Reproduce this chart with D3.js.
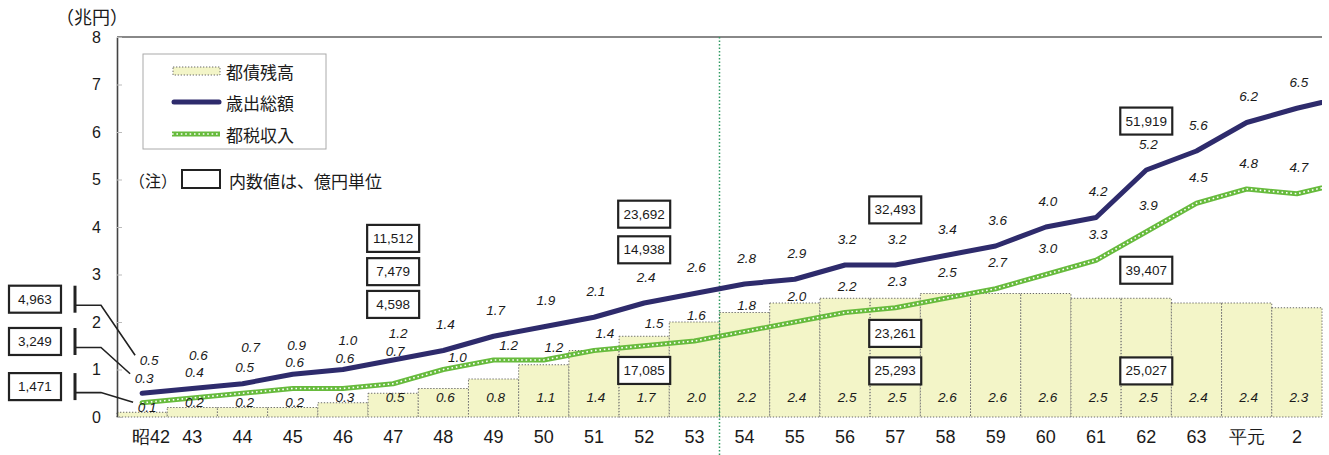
<!DOCTYPE html>
<html>
<head>
<meta charset="utf-8">
<script src="https://cdn.jsdelivr.net/npm/d3@7"></script>
<style>
  html, body { margin: 0; padding: 0; background: #fff; }
  svg { display: block; font-family: "Liberation Sans", "Noto Sans CJK JP", sans-serif; }
</style>
</head>
<body>
<svg id="chart" width="1329" height="455"></svg>
<script>
// Fiscal years (昭和42 … 平成2)
const years = ['昭42','43','44','45','46','47','48','49','50','51','52','53',
               '54','55','56','57','58','59','60','61','62','63','平元','2'];
// 都債残高 (trillion yen)
const debt = [0.1,0.2,0.2,0.2,0.3,0.5,0.6,0.8,1.1,1.4,1.7,2.0,
              2.2,2.4,2.5,2.5,2.6,2.6,2.6,2.5,2.5,2.4,2.4,2.3];
// 歳出総額 (trillion yen)
const expenditure = [0.5,0.6,0.7,0.9,1.0,1.2,1.4,1.7,1.9,2.1,2.4,2.6,
                     2.8,2.9,3.2,3.2,3.4,3.6,4.0,4.2,5.2,5.6,6.2,6.5];
// 都税収入 (trillion yen)
const taxRevenue = [0.3,0.4,0.5,0.6,0.6,0.7,1.0,1.2,1.2,1.4,1.5,1.6,
                    1.8,2.0,2.2,2.3,2.5,2.7,3.0,3.3,3.9,4.5,4.8,4.7];
// following year: only the start of its segment falls inside the plot
const nextYear = '3';
const expenditureNext = 6.75;
const taxRevenueNext = 4.95;

const yTicks = [0,1,2,3,4,5,6,7,8];

// boxed amounts in 億円
const calloutYears = ['昭42','47','52','57','62'];
const calloutExpenditure = [4963, 11512, 23692, 32493, 51919];
const calloutTax = [3249, 7479, 14938, 23261, 39407];
const calloutDebt = [1471, 4598, 17085, 25293, 25027];

// ---------------------------------------------------------------
const svg = d3.select('#chart');
const plotL = 117, plotR = 1322, plotT = 37, plotB = 417;
const bw = (plotR - plotL) / years.length;

const x = d3.scaleBand().domain(years).range([plotL, plotR]);
const xAll = d3.scaleBand().domain(years.concat([nextYear])).range([plotL, plotL + bw * (years.length + 1)]);
const cx = d => xAll(d) + bw / 2;
const y = d3.scaleLinear().domain([0, 8]).range([plotB, plotT]);

const navy = '#2e2b6c', green = '#67bb3d', ink = '#1a1a1a';

svg.append('defs').append('clipPath').attr('id', 'plot-clip')
  .append('rect').attr('x', plotL).attr('y', 0).attr('width', plotR - plotL).attr('height', 455);

// frame: top edge
svg.append('line').attr('x1', plotL).attr('x2', plotR).attr('y1', plotT).attr('y2', plotT)
  .attr('stroke', '#888').attr('stroke-width', 2);

// bars: outstanding bonds
svg.append('g').selectAll('rect').data(years).join('rect')
  .attr('x', d => x(d)).attr('width', bw)
  .attr('y', (d, i) => y(debt[i])).attr('height', (d, i) => plotB - y(debt[i]))
  .attr('fill', '#f3f5c8').attr('stroke', '#6a6a6a').attr('stroke-width', 1)
  .attr('stroke-dasharray', '1.3,1.7');

// y axis
const yAxis = svg.append('g').attr('transform', `translate(${plotL},0)`)
  .call(d3.axisLeft(y).tickValues(yTicks).tickFormat(d3.format('d'))
    .tickSizeInner(-5).tickSizeOuter(0).tickPadding(16));
yAxis.select('.domain').attr('stroke', '#444').attr('stroke-width', 1.6);
yAxis.selectAll('.tick line').attr('stroke', '#bbb');
yAxis.selectAll('text').attr('font-size', 16).attr('fill', ink)
  .attr('font-family', '"Liberation Sans", sans-serif');

// x axis labels
const xAxis = svg.append('g').attr('transform', `translate(0,${plotB})`)
  .call(d3.axisBottom(x).tickSize(0).tickPadding(13));
xAxis.select('.domain').remove();
xAxis.selectAll('text').attr('font-size', 18).attr('fill', ink)
  .attr('dx', d => d === '昭42' ? 9 : 0);

// era divider between 53 and 54
svg.append('line').attr('x1', x('54')).attr('x2', x('54')).attr('y1', plotT).attr('y2', 455)
  .attr('stroke', '#2f9a62').attr('stroke-width', 1.5).attr('stroke-dasharray', '1.5,2');

// lines
const lineGen = d3.line().x(d => cx(d.yr)).y(d => y(d.v));
const expPts = years.map((yr, i) => ({ yr, v: expenditure[i] })).concat([{ yr: nextYear, v: expenditureNext }]);
const taxPts = years.map((yr, i) => ({ yr, v: taxRevenue[i] })).concat([{ yr: nextYear, v: taxRevenueNext }]);
const lines = svg.append('g').attr('clip-path', 'url(#plot-clip)');
lines.append('path').attr('d', lineGen(taxPts)).attr('fill', 'none')
  .attr('stroke', green).attr('stroke-width', 5).attr('stroke-linejoin', 'round').attr('stroke-linecap', 'round');
lines.append('path').attr('d', lineGen(taxPts)).attr('fill', 'none')
  .attr('stroke', '#fff').attr('stroke-width', 1.6).attr('stroke-dasharray', '1.6,2.8');
lines.append('path').attr('d', lineGen(expPts)).attr('fill', 'none')
  .attr('stroke', navy).attr('stroke-width', 5).attr('stroke-linejoin', 'round').attr('stroke-linecap', 'round');

// value labels
const fmt = d3.format('.1f');
const labelStyle = sel => sel.attr('font-size', 13.5).attr('font-style', 'italic')
  .attr('fill', ink).attr('text-anchor', 'middle').attr('dominant-baseline', 'central');
// nudges to keep labels clear of the lines and of each other
const expNudge = { '昭42': [5, -7], '43': [4, -7], '44': [6, -10], '45': [2, -3], '46': [3, -3], '47': [3, -1] };
const taxNudge = { '昭42': [0, 2], '46': [0, -4], '47': [0, -6],
                   '48': [12, 14], '49': [13, 11], '50': [8, 13], '51': [9, 9], '52': [8, 4] };
const nx = (m, d) => m[d] ? m[d][0] : 0;
const ny = (m, d) => m[d] ? m[d][1] : 0;

svg.append('g').selectAll('text').data(years).join('text').call(labelStyle)
  .attr('x', d => cx(d) + 2 + nx(expNudge, d))
  .attr('y', (d, i) => y(expenditure[i]) - 26 + ny(expNudge, d))
  .text((d, i) => fmt(expenditure[i]));
svg.append('g').selectAll('text').data(years).join('text').call(labelStyle)
  .attr('x', d => cx(d) + 2 + nx(taxNudge, d))
  .attr('y', (d, i) => y(taxRevenue[i]) - 26 + ny(taxNudge, d))
  .text((d, i) => fmt(taxRevenue[i]));
// bar labels sit low inside the bar, or just above it when the bar is short
svg.append('g').selectAll('text').data(years).join('text').call(labelStyle)
  .attr('x', (d, i) => cx(d) + 2 + (i === 0 ? 3 : 0))
  .attr('y', (d, i) => Math.max(397, y(debt[i]) - 5))
  .text((d, i) => fmt(debt[i]));

// boxed 億円 amounts; vertical centres in chart units
const calloutRows = { exp: [2.48, 3.76, 4.27, 4.36, 6.23], tax: [1.59, 3.06, 3.52, 1.76, 3.09], debt: [0.64, 2.37, 0.98, 0.97, 0.97] };
const boxW = 52, boxH = 27;
const comma = d3.format(',');
const callouts = [];
calloutYears.forEach((yr, i) => {
  callouts.push({ yr, i, key: 'exp', v: calloutExpenditure[i] });
  callouts.push({ yr, i, key: 'tax', v: calloutTax[i] });
  callouts.push({ yr, i, key: 'debt', v: calloutDebt[i] });
});
const boxCx = c => c.i === 0 ? 35 : cx(c.yr);
const boxCy = c => y(calloutRows[c.key][c.i]);
const cg = svg.append('g').selectAll('g').data(callouts).join('g');
cg.append('rect')
  .attr('x', c => boxCx(c) - boxW / 2).attr('y', c => boxCy(c) - boxH / 2)
  .attr('width', boxW).attr('height', boxH)
  .attr('fill', '#fff').attr('stroke', '#222').attr('stroke-width', 2.2);
cg.append('text').attr('x', boxCx).attr('y', boxCy)
  .attr('text-anchor', 'middle').attr('dominant-baseline', 'central')
  .attr('font-size', 13.5).attr('fill', ink).text(c => comma(c.v));

// leaders from the first-year boxes to their labels
const firstLabel = {
  exp: [cx('昭42') + 7, y(expenditure[0]) - 33],
  tax: [cx('昭42') + 2, y(taxRevenue[0]) - 24],
  debt: [cx('昭42') + 5, Math.max(397, y(debt[0]) - 5)]
};
const leaders = svg.append('g').selectAll('g').data(callouts.filter(c => c.i === 0)).join('g');
leaders.append('line')
  .attr('x1', 75).attr('x2', 75)
  .attr('y1', c => boxCy(c) - boxH / 2).attr('y2', c => boxCy(c) + boxH / 2)
  .attr('stroke', '#222').attr('stroke-width', 3);
leaders.append('polyline').attr('fill', 'none').attr('stroke', '#222').attr('stroke-width', 1.6)
  .attr('points', c => {
    const hy = boxCy(c) + 6;
    const [lx, ly] = firstLabel[c.key];
    return `75,${hy} 101,${hy} ${lx - 14},${ly - 5}`;
  });

// legend
const lg = svg.append('g');
lg.append('rect').attr('x', 143).attr('y', 54).attr('width', 183).attr('height', 95)
  .attr('fill', '#fff').attr('stroke', '#aaa').attr('stroke-width', 1);
lg.append('rect').attr('x', 173).attr('y', 67).attr('width', 47).attr('height', 8)
  .attr('fill', '#f3f5c8').attr('stroke', '#6a6a6a').attr('stroke-width', 1).attr('stroke-dasharray', '1.3,1.7');
lg.append('line').attr('x1', 174).attr('x2', 219).attr('y1', 102).attr('y2', 102)
  .attr('stroke', navy).attr('stroke-width', 5).attr('stroke-linecap', 'round');
lg.append('line').attr('x1', 172).attr('x2', 220).attr('y1', 134).attr('y2', 134)
  .attr('stroke', green).attr('stroke-width', 5);
lg.append('line').attr('x1', 172).attr('x2', 220).attr('y1', 134).attr('y2', 134)
  .attr('stroke', '#fff').attr('stroke-width', 1.6).attr('stroke-dasharray', '1.6,2.8');
lg.selectAll('text.lab').data([['都債残高', 71], ['歳出総額', 102], ['都税収入', 134]]).join('text')
  .attr('class', 'lab').attr('x', 226).attr('y', d => d[1])
  .attr('dominant-baseline', 'central').attr('font-size', 17).attr('fill', ink)
  .attr('font-family', '"Noto Sans CJK JP", sans-serif').text(d => d[0]);

// note on units
svg.append('text').attr('x', 129).attr('y', 180).attr('dominant-baseline', 'central')
  .attr('font-size', 16).attr('fill', ink).attr('font-family', '"Noto Sans CJK JP", sans-serif').text('（注）');
svg.append('rect').attr('x', 182).attr('y', 170).attr('width', 38).attr('height', 18)
  .attr('fill', '#fff').attr('stroke', '#222').attr('stroke-width', 2);
svg.append('text').attr('x', 229).attr('y', 180).attr('dominant-baseline', 'central')
  .attr('font-size', 17).attr('fill', ink).attr('font-family', '"Noto Sans CJK JP", sans-serif').text('内数値は、億円単位');

// y unit
svg.append('text').attr('x', 56).attr('y', 16).attr('dominant-baseline', 'central')
  .attr('font-size', 18).attr('fill', ink).attr('font-family', '"Noto Sans CJK JP", sans-serif').text('（兆円）');
</script>
</body>
</html>
